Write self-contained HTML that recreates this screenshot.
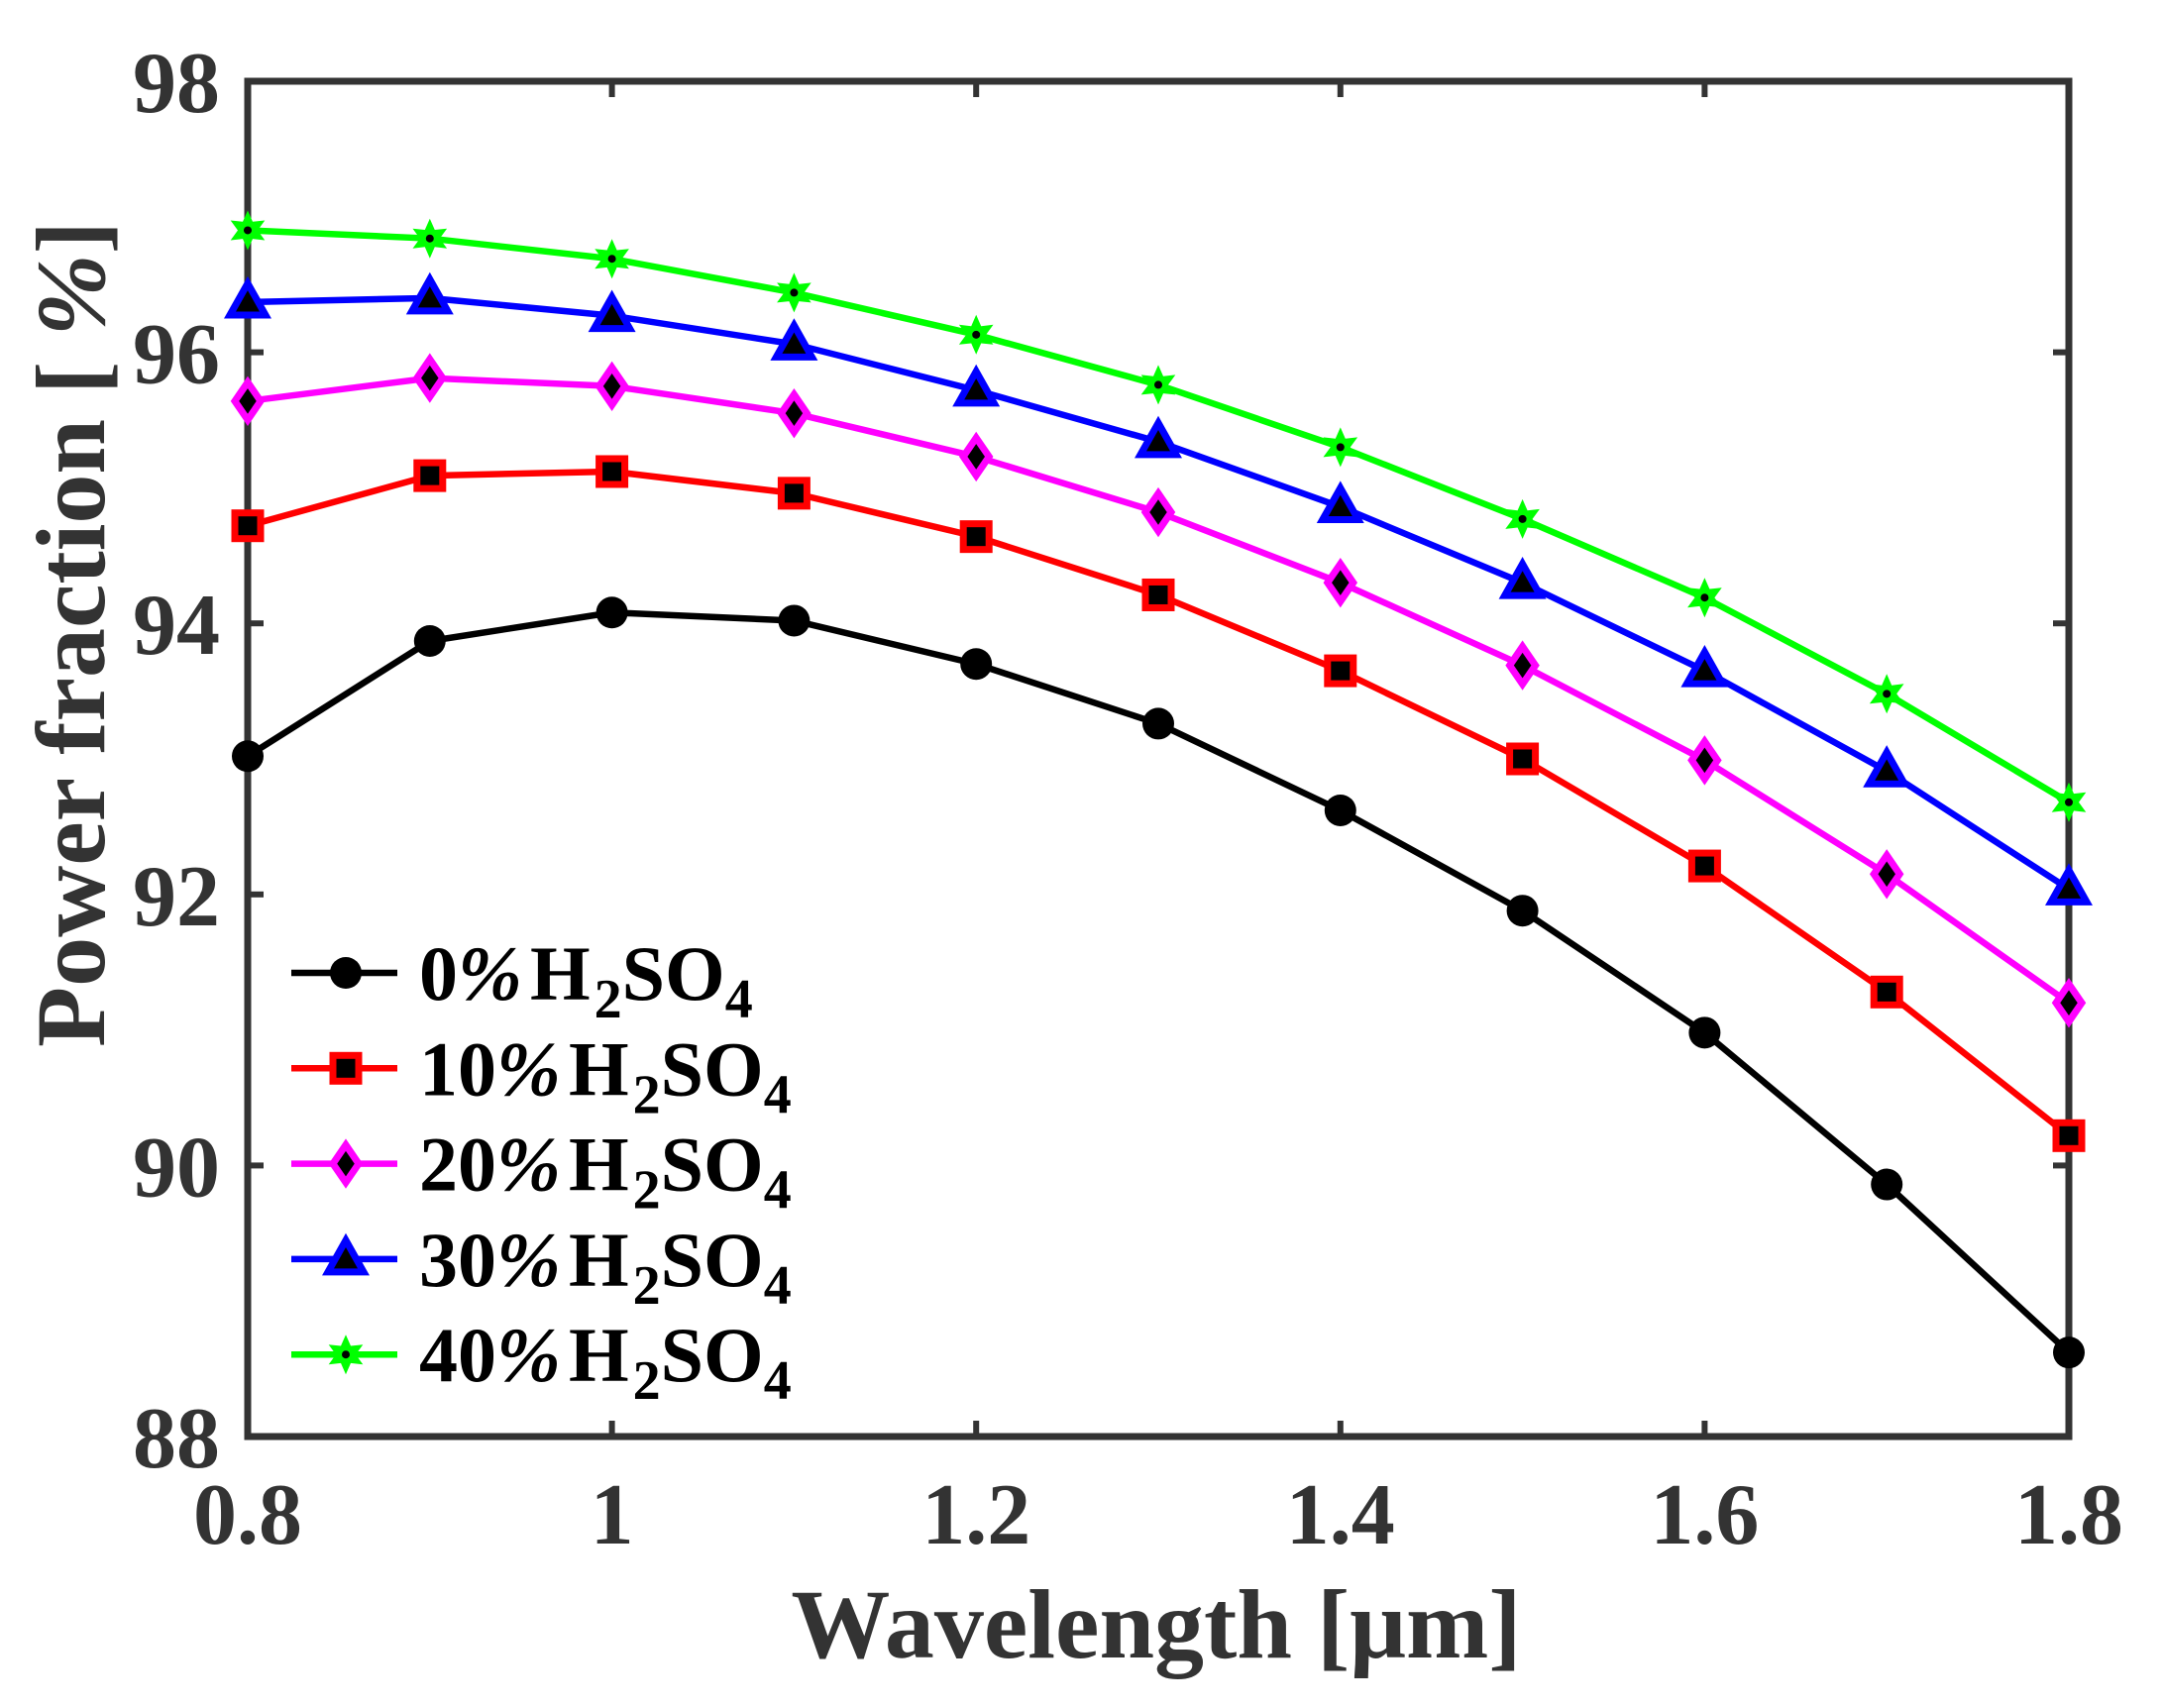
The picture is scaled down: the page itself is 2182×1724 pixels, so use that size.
<!DOCTYPE html>
<html><head><meta charset="utf-8"><style>
body{margin:0;background:#fff}
svg{display:block}
text{font-family:"Liberation Serif",serif;font-weight:bold;fill:#333}
</style></head><body>
<svg id="chart" width="2182" height="1724" viewBox="0 0 2182 1724" xmlns="http://www.w3.org/2000/svg">
<g id="grid"></g><g id="series"></g><g id="legend"></g>
</svg>
<script>
const xValues=[0.8,0.9,1.0,1.1,1.2,1.3,1.4,1.5,1.6,1.7,1.8];
const s0=[93.02,93.87,94.08,94.02,93.70,93.26,92.62,91.88,90.98,89.86,88.62];
const s10=[94.72,95.09,95.12,94.96,94.64,94.21,93.65,93.00,92.21,91.28,90.22];
const s20=[95.64,95.81,95.75,95.55,95.23,94.82,94.30,93.69,92.99,92.15,91.20];
const s30=[96.37,96.40,96.27,96.06,95.72,95.34,94.86,94.30,93.65,92.91,92.04];
const s40=[96.90,96.84,96.69,96.44,96.13,95.76,95.30,94.77,94.19,93.48,92.68];
const xTicks=[0.8,1,1.2,1.4,1.6,1.8];
const xTickLabels=["0.8","1","1.2","1.4","1.6","1.8"];
const yTicks=[88,90,92,94,96,98];
const yTickLabels=["88","90","92","94","96","98"];
const seriesNames=["0%","10%","20%","30%","40%"];

const L=250,R=2088,T=82,B=1450;
const xs=v=>L+(v-0.8)/(1.0)*(R-L);
const ys=v=>B-(v-88)/10*(B-T);
const NS="http://www.w3.org/2000/svg";
function mk(tag,attrs,parent){const e=document.createElementNS(NS,tag);for(const k in attrs)e.setAttribute(k,attrs[k]);parent.appendChild(e);return e;}
const grid=document.getElementById('grid');
const sg=document.getElementById('series');
const lg=document.getElementById('legend');

xTicks.forEach((t,i)=>{
  const x=xs(t);
  let a=mk('line',{x1:x,y1:B,x2:x,y2:B-16,stroke:'#333','stroke-width':6},grid);
  
  
  let b=mk('line',{x1:x,y1:T,x2:x,y2:T+16,stroke:'#333','stroke-width':6},grid);
  
  
  let tx=mk('text',{x:x,y:1558,'text-anchor':'middle','font-size':88},grid);
  tx.textContent=xTickLabels[i];
  
  
});
yTicks.forEach((t,i)=>{
  const y=ys(t);
  let a=mk('line',{x1:L,y1:y,x2:L+16,y2:y,stroke:'#333','stroke-width':6},grid);
  
  
  let b=mk('line',{x1:R,y1:y,x2:R-16,y2:y,stroke:'#333','stroke-width':6},grid);
  
  
  let tx=mk('text',{x:222,y:y+31,'text-anchor':'end','font-size':88},grid);
  tx.textContent=yTickLabels[i];
  
  
});
let box=mk('rect',{x:L,y:T,width:R-L,height:B-T,fill:'none',stroke:'#333','stroke-width':7},grid);


let xt=mk('text',{x:1167,y:1673,'text-anchor':'middle','font-size':100},grid);
xt.textContent='Wavelength [μm]';


let yt=mk('text',{x:0,y:0,'text-anchor':'middle','font-size':100,transform:'translate(105,640) rotate(-90)'},grid);
yt.innerHTML='Power fraction [ <tspan font-style="italic">%</tspan>]';



function marker(kind,cx,cy,color,parent){
  let g=mk('g',{},parent);
  if(kind==='circle'){mk('circle',{cx:cx,cy:cy,r:16,fill:'#000'},g);}
  else if(kind==='square'){mk('rect',{x:cx-13,y:cy-13,width:26,height:26,fill:'#000',stroke:color,'stroke-width':7},g);}
  else if(kind==='diamond'){mk('polygon',{points:`${cx},${cy-19} ${cx+13},${cy} ${cx},${cy+19} ${cx-13},${cy}`,fill:'#000',stroke:color,'stroke-width':7},g);}
  else if(kind==='triangle'){mk('polygon',{points:`${cx},${cy-19} ${cx+18},${cy+13} ${cx-18},${cy+13}`,fill:'#000',stroke:color,'stroke-width':7},g);}
  else {
    let p=[];for(let k=0;k<12;k++){const r=k%2?10:20;const a=k*Math.PI/6-Math.PI/2;p.push((cx+r*Math.cos(a)).toFixed(1)+','+(cy+r*Math.sin(a)).toFixed(1));}
    mk('polygon',{points:p.join(' '),fill:color},g);mk('circle',{cx:cx,cy:cy,r:4,fill:'#000'},g);
  }
  return g;
}
const all=[s0,s10,s20,s30,s40];
const colors=['#000','#ff0000','#ff00ff','#0000ff','#00ff00'];
const kinds=['circle','square','diamond','triangle','star'];
all.forEach((s,si)=>{
  const g=mk('g',{},sg);
  
  
  const pl=mk('polyline',{points:s.map((v,i)=>xs(xValues[i])+','+ys(v)).join(' '),fill:'none',stroke:colors[si],'stroke-width':6.5,'stroke-linejoin':'round'},g);
  
  
  s.forEach((v,i)=>{
    const m=marker(kinds[si],xs(xValues[i]),ys(v),colors[si],g);
    
    
  });
});
seriesNames.forEach((n,i)=>{
  const y=982+i*96.3;
  const g=mk('g',{},lg);
  
  
  mk('line',{x1:294,y1:y,x2:401,y2:y,stroke:colors[i],'stroke-width':6.5},g);
  marker(kinds[i],349,y,colors[i],g);
  const t=mk('text',{x:423,y:y+27,'font-size':78},g);
  t.setAttribute('style','fill:#000');
  t.innerHTML=n.replace('%','<tspan font-style="italic">%</tspan>')+'<tspan dx="8">H</tspan><tspan font-size="56" dx="4" dy="18">2</tspan><tspan dy="-18">SO</tspan><tspan font-size="56" dy="18">4</tspan>';
});
</script>
</body></html>
